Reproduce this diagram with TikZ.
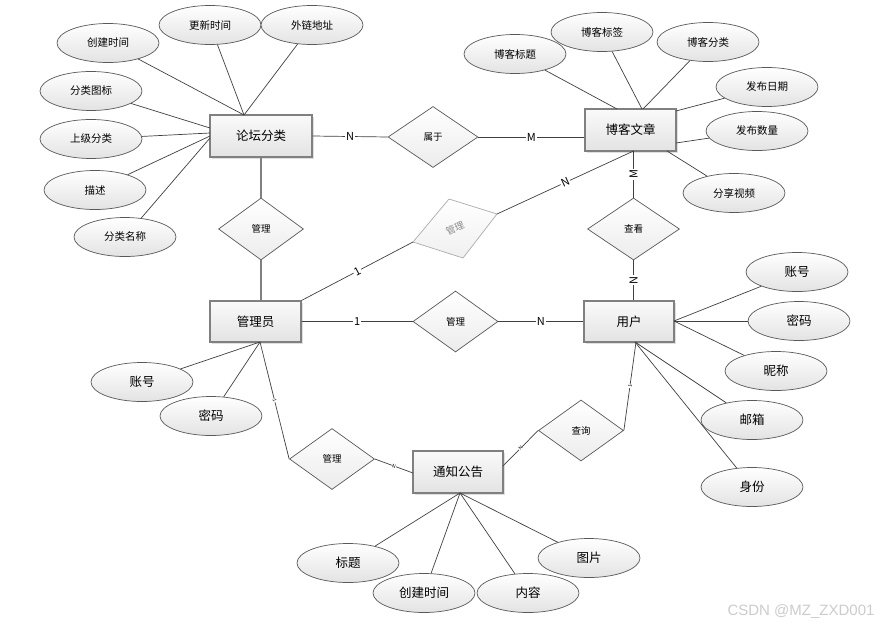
\documentclass[tikz,border=0pt]{standalone}
\usepackage{fontspec}
\setmainfont{Noto Sans CJK SC}
\newfontfamily\wmfont{Liberation Sans}
\usetikzlibrary{shapes.geometric,shadows}
\begin{document}
\begin{tikzpicture}[x=1pt,y=-1pt,
 ent/.style={rectangle,draw=black!50,line width=1.1pt,top color=gray!4,bottom color=gray!22,
   minimum height=42pt,inner sep=0pt,font=\fontsize{12.5}{14}\selectfont,
   drop shadow={opacity=0.25,shadow xshift=1.5pt,shadow yshift=-1.5pt}},
 attr/.style={ellipse,draw=black!65,line width=0.7pt,top color=white,bottom color=gray!22,
   minimum width=102pt,minimum height=39pt,inner sep=0pt,font=\fontsize{10.5}{12}\selectfont},
 attrb/.style={attr,font=\fontsize{12.5}{14}\selectfont},
 rel/.style={diamond,draw=black!65,line width=0.7pt,top color=white,bottom color=gray!15,
   minimum width=85pt,minimum height=61pt,inner sep=0pt,font=\fontsize{9.5}{11}\selectfont},
 ln/.style={draw=black!75,line width=0.7pt},
 lnl/.style={draw=black!50,line width=1.1pt},
 card/.style={fill=white,inner sep=1pt,font=\fontsize{11}{12}\selectfont},
 tinylab/.style={sloped,fill=white,inner sep=0.3pt,font=\fontsize{5}{5}\selectfont}]
\useasboundingbox (0,0) rectangle (881,629);
\fill[white] (0,0) rectangle (881,629);

% entities
\node[ent,minimum width=102pt] (lt) at (261,136) {论坛分类};
\node[ent,minimum width=91pt] (bk) at (630.5,130) {博客文章};
\node[ent,minimum width=91pt,minimum height=41pt] (gly) at (255.5,321.5) {管理员};
\node[ent,minimum width=90pt,minimum height=41pt] (yh) at (629,321.5) {用户};
\node[ent,minimum width=90pt] (tz) at (458,472) {通知公告};

% relationships
\node[rel,minimum width=90pt] (sy) at (433,137) {属于};
\node[rel,minimum height=62pt] (gl) at (261,229) {管理};
\node[rel] (gm) at (455.5,321.5) {管理};
\node[rel,minimum width=92pt,minimum height=62pt] (ck) at (633.5,229) {查看};
\node[rel] (glb) at (332,459) {管理};
\node[rel] (cx) at (581,430.5) {查询};

% skewed diamond
\coordinate (rL) at (413,242);
\coordinate (rT) at (449,199);
\coordinate (rR) at (497,214);
\coordinate (rB) at (463,258);
\draw[draw=gray!65,line width=0.7pt,top color=white,bottom color=gray!12] (rL)--(rT)--(rR)--(rB)--cycle;
\node[rotate=24,inner sep=0pt,text=gray!90,font=\fontsize{9.5}{11}\selectfont] (rtxt) at (455,228.5) {管理};

% attributes of 论坛分类
\node[attr] (a1) at (108,43) {创建时间};
\node[attr] (a2) at (210,25) {更新时间};
\node[attr] (a3) at (312,25) {外链地址};
\node[attr] (a4) at (91,91) {分类图标};
\node[attr] (a5) at (91,139) {上级分类};
\node[attr] (a6) at (95,190) {描述};
\node[attr] (a7) at (125,237) {分类名称};
\coordinate (ltT) at (244,115);
\coordinate (ltL1) at (210,128);
\coordinate (ltL2) at (210,133);
\coordinate (ltL3) at (210,136);
\coordinate (ltL4) at (210,138);
\draw[ln] (ltT) -- (a1);
\draw[ln] (ltT) -- (a2);
\draw[ln] (ltT) -- (a3);
\draw[ln] (ltL1) -- (a4);
\draw[ln] (ltL2) -- (a5);
\draw[ln] (ltL3) -- (a6);
\draw[ln] (ltL4) -- (a7);

% attributes of 博客文章
\node[attr] (b1) at (515,54) {博客标题};
\node[attr] (b2) at (602,32) {博客标签};
\node[attr] (b3) at (708,42) {博客分类};
\node[attr] (b4) at (767,87) {发布日期};
\node[attr] (b5) at (757,131) {发布数量};
\node[attr] (b6) at (734,193) {分享视频};
\coordinate (bkT1) at (617,109);
\coordinate (bkT2) at (642,109);
\coordinate (bkT3) at (643,109);
\coordinate (bkR1) at (676,111);
\coordinate (bkR2) at (676,143);
\coordinate (bkB1) at (667,151);
\coordinate (bkB) at (633.5,151);
\draw[ln] (bkT1) -- (b1);
\draw[ln] (bkT2) -- (b2);
\draw[ln] (bkT3) -- (b3);
\draw[ln] (bkR1) -- (b4);
\draw[ln] (bkR2) -- (b5);
\draw[ln] (bkB1) -- (b6);

% attributes of 管理员
\node[attrb] (g1) at (142,382) {账号};
\node[attrb] (g2) at (211,416) {密码};
\coordinate (glyB) at (260,342);
\draw[ln] (glyB) -- (g1);
\draw[ln] (glyB) -- (g2);

% attributes of 用户
\node[attrb] (u1) at (797,272) {账号};
\node[attrb] (u2) at (799,321) {密码};
\node[attrb] (u3) at (776,371) {昵称};
\node[attrb] (u4) at (752,420) {邮箱};
\node[attrb] (u5) at (752,487) {身份};
\coordinate (yhR) at (674,321);
\coordinate (yhB) at (635,342);
\draw[ln] (yhR) -- (u1);
\draw[ln] (yhR) -- (u2);
\draw[ln] (yhR) -- (u3);
\draw[ln] (yhB) -- (u4);
\draw[ln] (yhB) -- (u5);

% attributes of 通知公告
\node[attrb] (t1) at (348,563) {标题};
\node[attrb] (t2) at (424,593) {创建时间};
\node[attrb] (t3) at (528,593) {内容};
\node[attrb] (t4) at (589,558) {图片};
\coordinate (tzB) at (460,493);
\draw[ln] (tzB) -- (t1);
\draw[ln] (tzB) -- (t2);
\draw[ln] (tzB) -- (t3);
\draw[ln] (tzB) -- (t4);

% relationship connectors
\draw[ln] (lt.east) -- node[card]{N} (sy.west);
\draw[ln] (sy.east) -- node[card]{M} (sy.east -| bk.west);
\draw[lnl] (lt.south) -- (gl.north);
\draw[lnl] (gl.south) -- (gl.south |- gly.north);
\draw[ln] (gly.north east) -- node[card,sloped]{1} (rL);
\draw[ln] (rR) -- node[card,sloped]{N} (bkB);
\draw[ln] (bkB) -- node[card,rotate=90]{M} (ck.north);
\draw[ln] (ck.south) -- node[card,rotate=90]{N} (ck.south |- yh.north);
\draw[ln] (gly.east) -- node[card]{1} (gm.west);
\draw[ln] (gm.east) -- node[card]{N} (yh.west);
\coordinate (tzL) at (413,473);
\coordinate (tzR) at (503,466);
\coordinate (yhB2) at (636,342);
\draw[ln] (glyB) -- node[tinylab]{1} (glb.west);
\draw[ln] (glb.east) -- node[tinylab]{N} (tzL);
\draw[ln] (tzR) -- node[tinylab]{N} (cx.west);
\draw[ln] (yhB2) -- node[tinylab]{1} (cx.east);

\node[font=\wmfont\fontsize{15}{15}\selectfont,text=gray!40] (wm) at (801,612) {CSDN @MZ\_ZXD001};
\end{tikzpicture}
\end{document}
